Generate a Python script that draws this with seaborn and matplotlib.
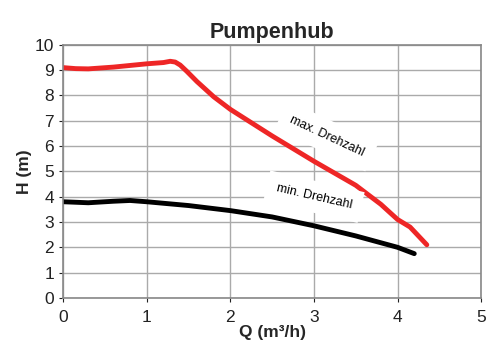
import numpy as np
import pandas as pd
import matplotlib
matplotlib.use('Agg')
import matplotlib.pyplot as plt
import seaborn as sns

sns.set_style('whitegrid')
plt.rcParams['font.family'] = ['Liberation Sans', 'DejaVu Sans']

# Kennlinien
q_max = [0.0, 0.15, 0.3, 0.6, 1.0, 1.2, 1.28, 1.34, 1.4, 1.48, 1.6, 1.8, 2.0, 2.5, 3.0, 3.5, 3.8, 4.0, 4.15, 4.35]
h_max = [9.1, 9.06, 9.05, 9.12, 9.25, 9.3, 9.35, 9.32, 9.2, 8.95, 8.55, 7.95, 7.45, 6.4, 5.4, 4.45, 3.7, 3.1, 2.8, 2.1]
q_min = [0.0, 0.3, 0.6, 0.8, 1.0, 1.5, 2.0, 2.5, 3.0, 3.5, 4.0, 4.2]
h_min = [3.8, 3.76, 3.82, 3.85, 3.8, 3.65, 3.45, 3.2, 2.85, 2.45, 2.0, 1.75]

df_max = pd.DataFrame({'Q': q_max, 'H': h_max})
df_min = pd.DataFrame({'Q': q_min, 'H': h_min})

fig = plt.figure(figsize=(4.86, 3.53), dpi=100)
ax = fig.add_axes([0.13, 0.156, 0.86, 0.717])

sns.lineplot(data=df_max, x='Q', y='H', color='#ee2626', linewidth=3.5, ax=ax)
sns.lineplot(data=df_min, x='Q', y='H', color='black', linewidth=3.5, ax=ax)

ax.set_xlim(0, 5)
ax.set_ylim(0, 10)
ax.set_xticks(range(0, 6))
ax.set_yticks(range(0, 11))
ax.grid(True, color='#aaaaaa', linewidth=1)
for s in ax.spines.values():
    s.set_color('#888888')
    s.set_linewidth(1.2)
ax.tick_params(labelsize=12.5, colors='#222222', length=3, left=True, bottom=True)
ax.tick_params(axis='x', pad=6)

ax.set_title('Pumpenhub', fontsize=15.5, fontweight='bold', pad=5)
ax.set_xlabel('Q (m³/h)', fontsize=12.5, fontweight='bold', labelpad=0)
ax.set_ylabel('H (m)', fontsize=12.5, fontweight='bold', labelpad=2)

box = dict(facecolor='white', edgecolor='none', pad=7)
ax.text(3.15, 6.4, 'max. Drehzahl', rotation=-25, fontsize=9, color='black',
        ha='center', va='center', bbox=box)
ax.text(3.0, 4.0, 'min. Drehzahl', rotation=-13, fontsize=9, color='black',
        ha='center', va='center', bbox=box)

fig.savefig('out.png', dpi=100)
